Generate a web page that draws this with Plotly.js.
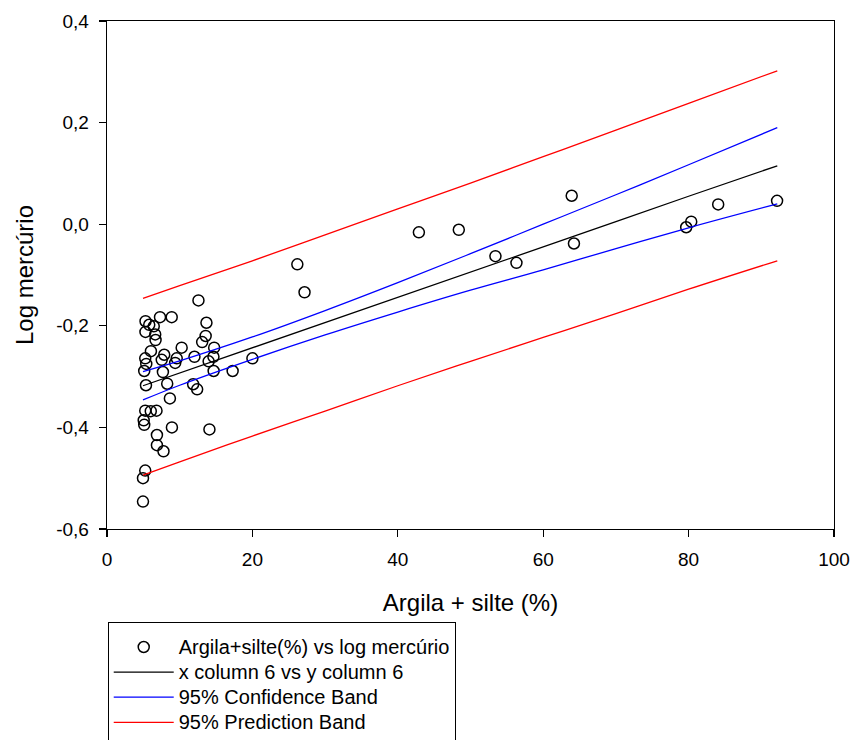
<!DOCTYPE html>
<html>
<head>
<meta charset="utf-8">
<script src="https://cdn.plot.ly/plotly-3.0.1.min.js"></script>
<style>html,body{margin:0;padding:0;background:#fff;}#chart{width:853px;height:740px;}</style>
</head>
<body>
<div id="chart"></div>
<script>
// Observed data: argila + silte (%) vs log mercúrio
const argilaSilte = [
  12.58, 5.30, 5.81, 7.29, 8.90, 6.43, 5.29, 6.63, 6.68, 13.68,
  13.57, 13.09, 14.74, 10.27, 6.04, 7.87, 5.26, 7.53, 9.59, 9.38,
  12.03, 14.64, 13.98, 20.00, 5.12, 7.69, 14.67, 17.28, 5.36, 8.28,
  11.85, 12.40, 8.65, 5.26, 6.02, 6.81, 5.05, 5.12, 8.93, 14.09,
  6.87, 6.87, 7.77, 5.26, 4.95, 4.95, 5.40, 26.18, 27.17, 42.90,
  48.39, 63.92, 64.23, 53.43, 56.32, 79.67, 80.36, 84.07, 92.17
];
const logMercurio = [
  -0.150, -0.191, -0.198, -0.183, -0.183, -0.201, -0.212, -0.217, -0.228, -0.194,
  -0.220, -0.232, -0.243, -0.243, -0.250, -0.257, -0.264, -0.267, -0.264, -0.273,
  -0.261, -0.261, -0.270, -0.264, -0.289, -0.291, -0.289, -0.289, -0.317, -0.314,
  -0.315, -0.325, -0.343, -0.367, -0.368, -0.367, -0.386, -0.395, -0.400, -0.404,
  -0.415, -0.435, -0.447, -0.485, -0.500, -0.546, -0.275, -0.079, -0.134, -0.016,
  -0.011, 0.056, -0.038, -0.063, -0.076, -0.006, 0.005, 0.039, 0.046
];

// Regression line and bands at these x positions
const bandX     = [4.95, 10, 20, 30, 40, 50, 60, 70, 80, 92.2];
const fitY      = [-0.318, -0.293, -0.244, -0.194, -0.144, -0.094, -0.045, 0.005, 0.055, 0.115];
const confUpper = [-0.290, -0.269, -0.222, -0.170, -0.115, -0.058, 0.000, 0.058, 0.117, 0.190];
const confLower = [-0.346, -0.317, -0.266, -0.218, -0.173, -0.130, -0.090, -0.048, -0.007, 0.040];
const predUpper = [-0.146, -0.121, -0.072, -0.021, 0.030, 0.081, 0.133, 0.185, 0.238, 0.302];
const predLower = [-0.494, -0.468, -0.417, -0.368, -0.318, -0.270, -0.223, -0.176, -0.128, -0.072];

const yTickVals = [-0.6, -0.4, -0.2, 0.0, 0.2, 0.4];
const yTickText = ['-0,6', '-0,4', '-0,2', '0,0', '0,2', '0,4'];
const xTickVals = [0, 20, 40, 60, 80, 100];
const xTickText = ['0', '20', '40', '60', '80', '100'];

const legendNames = [
  'Argila+silte(%) vs log mercúrio',
  'x column 6 vs y column 6',
  '95% Confidence Band',
  '95% Prediction Band'
];

const font = 'Liberation Sans, Arial, sans-serif';
const big = s => '<span style="font-size:20px">' + s + '</span>';

const traces = [
  {
    x: argilaSilte, y: logMercurio, type: 'scatter', mode: 'markers',
    name: big(legendNames[0]),
    marker: {symbol: 'circle-open', size: 11, color: '#000', line: {width: 1.5, color: '#000'}}
  },
  {
    x: bandX, y: fitY, type: 'scatter', mode: 'lines',
    name: big(legendNames[1]), line: {color: '#000', width: 1.3}
  },
  {
    x: bandX, y: confUpper, type: 'scatter', mode: 'lines', line: {color: '#0000ff', width: 1.3, shape: 'spline'},
    name: big(legendNames[2]), legendgroup: 'conf'
  },
  {
    x: bandX, y: confLower, type: 'scatter', mode: 'lines', line: {color: '#0000ff', width: 1.3, shape: 'spline'},
    name: big(legendNames[2]), legendgroup: 'conf', showlegend: false
  },
  {
    x: bandX, y: predUpper, type: 'scatter', mode: 'lines', line: {color: '#ff0000', width: 1.3, shape: 'spline'},
    name: big(legendNames[3]), legendgroup: 'pred'
  },
  {
    x: bandX, y: predLower, type: 'scatter', mode: 'lines', line: {color: '#ff0000', width: 1.3, shape: 'spline'},
    name: big(legendNames[3]), legendgroup: 'pred', showlegend: false
  }
];

const layout = {
  width: 853, height: 740,
  margin: {l: 107, r: 19, t: 21, b: 211, autoexpand: false},
  paper_bgcolor: '#fff', plot_bgcolor: '#fff',
  font: {family: font, size: 19, color: '#000'},
  showlegend: true,
  xaxis: {
    range: [0, 100], tickvals: xTickVals, ticktext: xTickText,
    showgrid: false, zeroline: false, showline: true, mirror: true,
    linecolor: '#000', linewidth: 1.3, ticks: 'outside', ticklen: 7, tickwidth: 1.3, tickcolor: '#000',
    tickfont: {family: font, size: 19}, ticklabelstandoff: 6,
    title: {text: 'Argila + silte (%)', font: {family: font, size: 24}, standoff: 25}
  },
  yaxis: {
    range: [-0.6, 0.4], tickvals: yTickVals, ticktext: yTickText,
    showgrid: false, zeroline: false, showline: true, mirror: true,
    linecolor: '#000', linewidth: 1.3, ticks: 'outside', ticklen: 7, tickwidth: 1.3, tickcolor: '#000',
    tickfont: {family: font, size: 19}, ticklabelstandoff: 6,
    title: {text: 'Log mercúrio', font: {family: font, size: 24}, standoff: 15}
  },
  legend: {
    x: 0.001, y: -0.183, xanchor: 'left', yanchor: 'top',
    bordercolor: '#000', borderwidth: 1, bgcolor: '#fff',
    font: {family: font, size: 17}, tracegroupgap: 0, itemwidth: 60,
    title: {text: '&nbsp;', font: {family: font, size: 5}}
  }
};

Plotly.newPlot('chart', traces, layout, {displayModeBar: false, staticPlot: true});
</script>
</body>
</html>
